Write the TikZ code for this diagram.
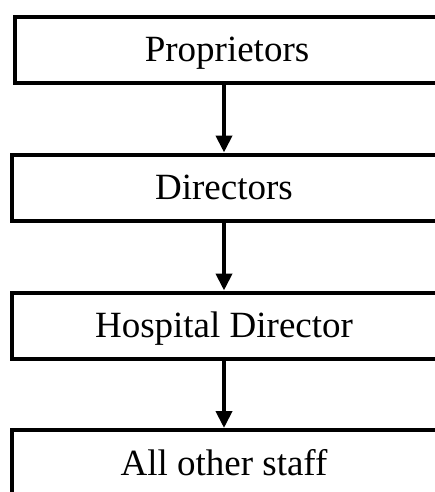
\documentclass[tikz,border=0pt]{standalone}
\usepackage{fontspec}
\setmainfont{Liberation Serif}
\usetikzlibrary{arrows.meta}
\begin{document}
\begin{tikzpicture}[x=1pt,y=-1pt,
  orgbox/.style={draw=black, line width=4pt, fill=white, inner sep=0pt,
    minimum width=425pt, minimum height=66.5pt, text height=24pt, text depth=0pt,
    font=\fontsize{37}{40}\selectfont},
  orgarrow/.style={line width=4pt, -{Triangle[width=16pt,length=17pt]}}]
\useasboundingbox (0,0) rectangle (435,492);
\clip (0,0) rectangle (435,492);
\node[orgbox] (p) at (227,50) {Proprietors};
\node[orgbox] (d) at (224,187.75) {Directors};
\node[orgbox] (h) at (224,325.75) {Hospital Director};
\node[orgbox] (s) at (224,463.25) {All other staff};
\draw[orgarrow] (p.south -| 224,0) -- (d.north);
\draw[orgarrow] (d.south) -- (h.north);
\draw[orgarrow] (h.south) -- (s.north);
\end{tikzpicture}
\end{document}
